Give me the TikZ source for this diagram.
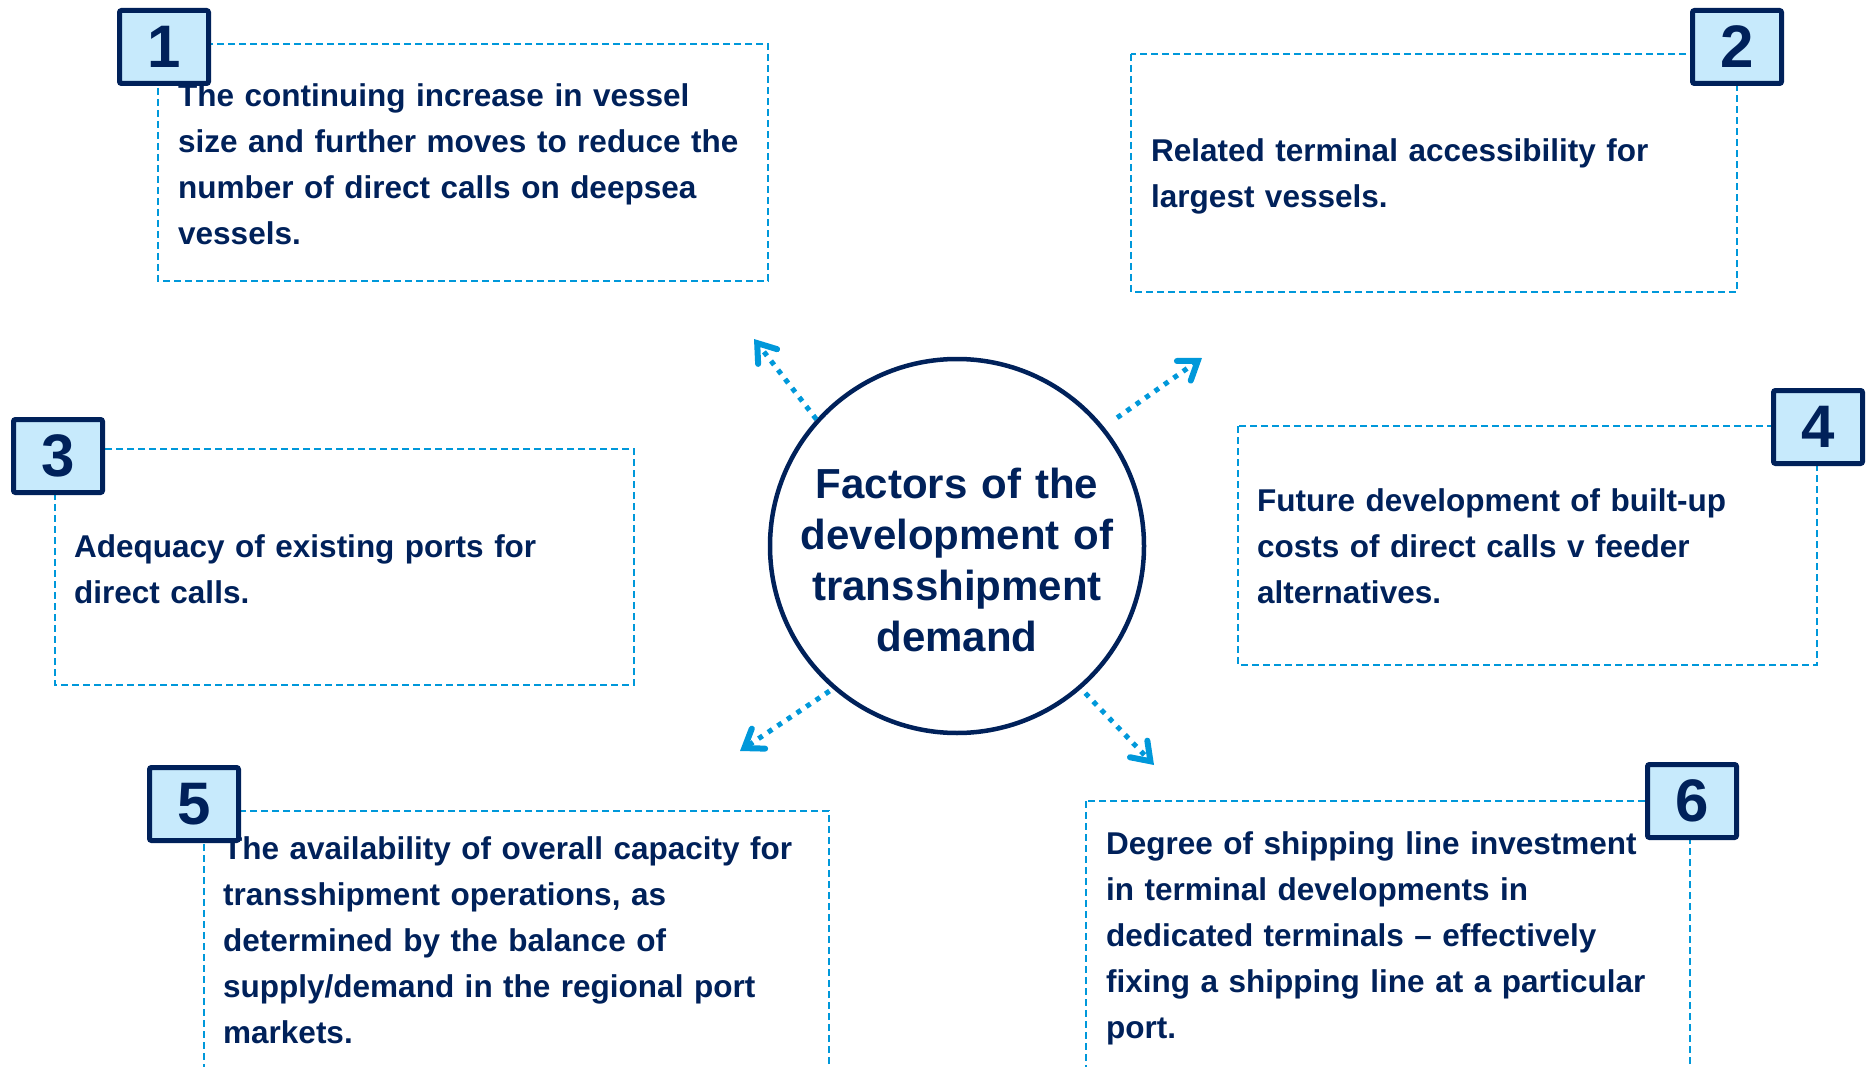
\documentclass[tikz,border=0pt]{standalone}
\usepackage{fontspec}
\setmainfont{Liberation Sans}
\usetikzlibrary{arrows.meta}
\definecolor{navy}{RGB}{0,33,90}
\definecolor{paleblue}{RGB}{199,234,252}
\definecolor{lineblue}{RGB}{0,152,218}
\begin{document}
\begin{tikzpicture}[x=1pt,y=-1pt,
  factorbox/.style={draw=lineblue, line width=2.2pt, dash pattern=on 7pt off 4pt},
  numbox/.style={draw=navy, fill=paleblue, line width=5pt, rounded corners=2pt,
    minimum width=89pt, minimum height=73pt, inner sep=0pt,
    text=navy, font=\fontsize{60}{60}\selectfont\bfseries},
  factortext/.style={anchor=base west, inner sep=0pt, text=navy, align=left,
    text width=720pt, font=\fontsize{31.5}{46}\selectfont\bfseries},
  hub/.style={circle, draw=navy, line width=4.5pt, minimum size=374pt, inner sep=0pt},
  hubtext/.style={anchor=base, inner sep=0pt, text=navy, align=center,
    text width=400pt, font=\fontsize{42}{51}\selectfont\bfseries},
  spoke/.style={draw=lineblue, line width=5pt, dash pattern=on 5pt off 6.5pt,
    -{Straight Barb[length=17pt, width=24pt, line width=6pt, line cap=round, line join=miter]}}
]
\useasboundingbox (0,0) rectangle (1868,1067);
\clip (0,0) rectangle (1868,1067);

% dashed frames of the six factors
\draw[factorbox] (158,44) rectangle (768,281);
\draw[factorbox] (1131,54) rectangle (1737,292);
\draw[factorbox] (55,449) rectangle (634,685);
\draw[factorbox] (1238,426) rectangle (1817,665);
\draw[factorbox] (204,811) rectangle (829,1120);
\draw[factorbox] (1086,801) rectangle (1690,1120);

% factor texts
\node[factortext] (t1) at (178,107) {The continuing increase in vessel\\size and further moves to reduce the\\number of direct calls on deepsea\\vessels.};
\node[factortext] (t2) at (1151,162) {Related terminal accessibility for\\largest vessels.};
\node[factortext] (t3) at (74,557) {Adequacy of existing ports for\\direct calls.};
\node[factortext] (t4) at (1257,511) {Future development of built-up\\costs of direct calls v feeder\\alternatives.};
\node[factortext] (t5) at (223,859) {The availability of overall capacity for\\transshipment operations, as\\determined by the balance of\\supply/demand in the regional port\\markets.};
\node[factortext] (t6) at (1106,854) {Degree of shipping line investment\\in terminal developments in\\dedicated terminals -- effectively\\fixing a shipping line at a particular\\port.};

% number badges
\node[numbox] (n1) at (164,47) {1};
\node[numbox] (n2) at (1737,47) {2};
\node[numbox] (n3) at (58,456) {3};
\node[numbox] (n4) at (1818,427) {4};
\node[numbox] (n5) at (194,804) {5};
\node[numbox] (n6) at (1692,801) {6};

% central hub
\node[hub] (hub) at (957,546) {};
\node[hubtext] (hubt) at (957,498) {Factors of the\\development of\\transshipment\\demand};

% arrow ends
\coordinate (a1) at (754,339);
\coordinate (a2) at (1202,358);
\coordinate (a3) at (740,751);
\coordinate (a4) at (1154,765);

\draw[spoke] (hub.138) -- (a1);
\draw[spoke, shorten <=16pt] (hub.39) -- (a2);
\draw[spoke, shorten <=4pt] (hub.229) -- (a3);
\draw[spoke, shorten <=6pt] (hub.-49) -- (a4);
\end{tikzpicture}
\end{document}
